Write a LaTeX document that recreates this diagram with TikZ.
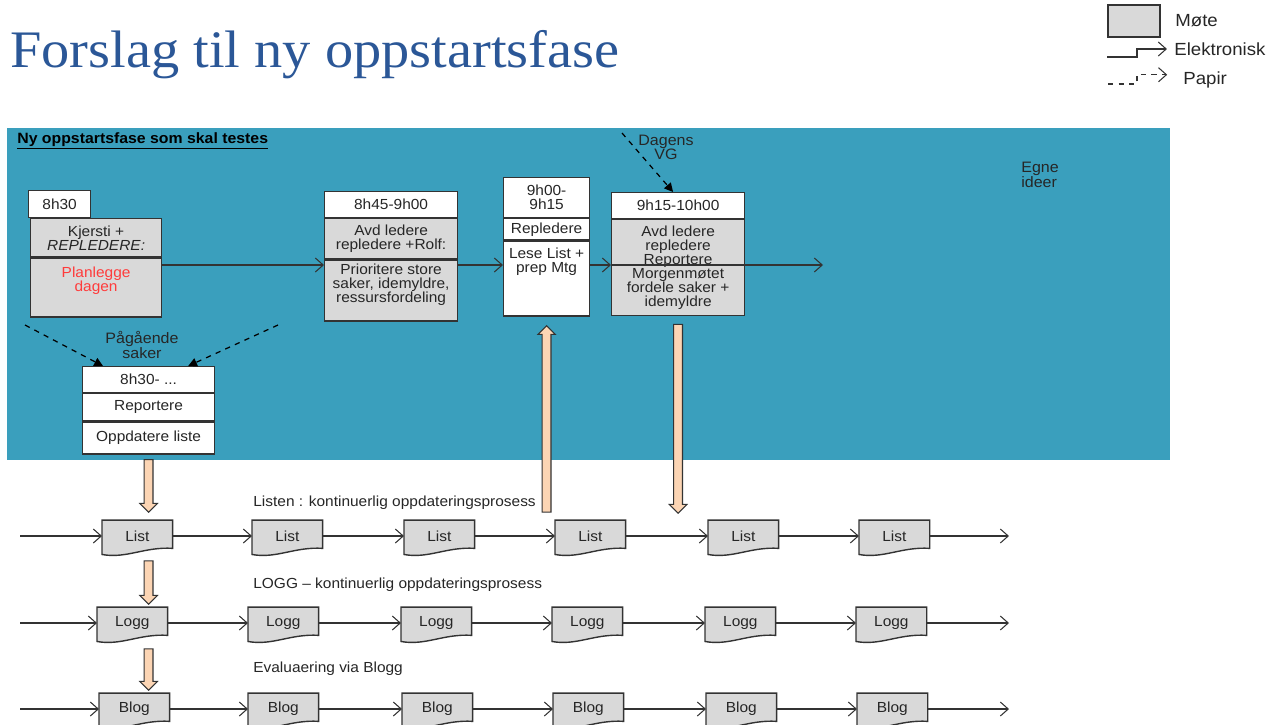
\documentclass[tikz,border=0pt]{standalone}
\usepackage{fontspec}
\setmainfont{Liberation Sans}[FakeStretch=1.06]
\newfontfamily\titlefont{Liberation Serif}[FakeStretch=1.07]
\usetikzlibrary{calc,arrows.meta,positioning,backgrounds}
\definecolor{cteal}{HTML}{3A9FBD}
\definecolor{cgray}{HTML}{D9D9D9}
\definecolor{cpeach}{HTML}{FCD5B4}
\definecolor{cline}{HTML}{333333}
\definecolor{ctitle}{HTML}{2B5797}
\definecolor{cred}{HTML}{FF3B3B}
% document outline round a node, wavy bottom
\newcommand\docshape[1]{%
  \filldraw[docline] (#1.north west) -- (#1.north east) -- ([yshift=2pt]#1.south east)
    .. controls ([xshift=-16pt,yshift=3pt]#1.south east) and ([xshift=14pt,yshift=-4pt]#1.south west)
    .. ([yshift=-1.5pt]#1.south west) -- cycle;}
% block arrow from #1 to #2
\newcommand\fatarrow[2]{%
  \path ($(#2)!5pt!(#1)$) coordinate (fabase);
  \filldraw[fat] ($(#1)!2.5pt!90:(#2)$) -- ($(fabase)!2.5pt!90:(#2)$) -- ($(fabase)!5pt!90:(#2)$)
    -- (#2) -- ($(fabase)!5pt!-90:(#2)$) -- ($(fabase)!2.5pt!-90:(#2)$) -- ($(#1)!2.5pt!-90:(#2)$) -- cycle;}
\begin{document}
\begin{tikzpicture}[x=0.02cm, y=-0.02cm,
  font=\fontsize{8.3}{8}\selectfont,
  part/.style={draw=cline, line width=0.7pt, fill=white, align=center, inner sep=1pt, text=black!85},
  gpart/.style={part, fill=cgray},
  doc/.style={minimum width=1.4cm, minimum height=0.62cm, inner sep=1pt, text=black!85},
  docline/.style={draw=cline, line width=0.8pt, fill=cgray},
  arr/.style={-{Straight Barb[length=4.5pt,width=8pt]}, draw=cline, line width=0.6pt},
  paper/.style={dashed, -{Triangle[length=5pt,width=5pt]}, draw=black, line width=0.7pt},
  fat/.style={draw=cline, line width=0.6pt, fill=cpeach},
  lbl/.style={inner sep=0pt, text=black!85}]
\useasboundingbox (0,0) rectangle (1267,724);
%% title and legend
\node[anchor=base west, inner sep=0pt, text=ctitle, font=\titlefont\fontsize{30}{34}\selectfont] (title) at (10,67)
  {Forslag til ny oppstartsfase};
\node[gpart, minimum width=1.04cm, minimum height=0.64cm] (legmote) at (1134,21) {};
\node[lbl, anchor=west, font=\fontsize{10}{12}\selectfont] (legmotetxt) at (1175,21) {Møte};
\node[lbl, anchor=west, font=\fontsize{10}{12}\selectfont] (legel) at (1174,49) {Elektronisk};
\node[lbl, anchor=west, font=\fontsize{10}{12}\selectfont] (legpap) at (1183,80) {Papir};
\coordinate (legel0) at (1107,57);
\coordinate (legpap0) at (1108,84);
\draw[arr] (legel0) -- ++(30,0) |- ([xshift=-4pt]legel.west);
\draw[arr, dashed] (legpap0) -- ++(29,0) |- ([xshift=-9pt,yshift=3pt]legpap.west);
%% panel
\fill[cteal] (7,128) rectangle (1170,460);
\node[lbl, anchor=west, text=black, font=\bfseries\fontsize{8.5}{10}\selectfont] (cap) at (17,141)
  {\underline{Ny oppstartsfase som skal testes}};
\node[lbl, anchor=north west, align=left, font=\fontsize{8.6}{8.5}\selectfont] (egne) at (1021,162) {Egne\\ideer};
\node[lbl, align=center, font=\fontsize{8.6}{8}\selectfont] (dagens) at (666,147) {Dagens\\VG};
\node[lbl, align=center, font=\fontsize{8.6}{8}\selectfont] (pag) at (142,345) {Pågående\\saker};
%% box 1
\node[part, minimum width=1.24cm, minimum height=0.54cm, anchor=north west] (b1h) at (28,190) {8h30};
\node[gpart, minimum width=2.62cm, minimum height=0.76cm, anchor=north west] (b1a) at ($(b1h.south west)+(2,0)$)
  {Kjersti +\\\textit{REPLEDERE:}};
\node[gpart, inner sep=0pt, anchor=north] (b1b) at (b1a.south)
  {\parbox[c][1.18cm][t]{2.62cm}{\centering\vspace*{5pt}\textcolor{cred}{Planlegge\\dagen}}};
%% box 2
\node[part, minimum width=2.66cm, minimum height=0.52cm, anchor=north west] (b2h) at (324,191) {8h45-9h00};
\node[gpart, minimum width=2.66cm, minimum height=0.8cm, below=0pt of b2h] (b2a) {Avd ledere\\repledere +Rolf:};
\node[gpart, inner sep=0pt, below=0pt of b2a] (b2b)
  {\parbox[c][1.22cm][t]{2.66cm}{\centering\vspace*{2pt}Prioritere store\\saker, idemyldre,\\ressursfordeling}};
%% box 3
\node[part, minimum width=1.72cm, minimum height=0.8cm, anchor=north west] (b3h) at (503,177) {9h00-\\9h15};
\node[part, minimum width=1.72cm, minimum height=0.42cm, below=0pt of b3h] (b3a) {Repledere};
\node[part, inner sep=0pt, below=0pt of b3a] (b3b)
  {\parbox[c][1.5cm][t]{1.72cm}{\centering\vspace*{4pt}Lese List +\\prep Mtg}};
%% box 4
\node[part, minimum width=2.66cm, minimum height=0.52cm, anchor=north west] (b4h) at (611,192) {9h15-10h00};
\node[gpart, minimum width=2.66cm, minimum height=1.92cm, below=0pt of b4h] (b4a)
  {Avd ledere\\repledere\\Reportere\\Morgenmøtet\\fordele saker +\\idemyldre};
%% box 5
\node[part, minimum width=2.64cm, minimum height=0.52cm, anchor=north west] (b5h) at (82,366) {8h30- ...};
\node[part, minimum width=2.64cm, minimum height=0.54cm, below=0pt of b5h] (b5a) {Reportere};
\node[part, minimum width=2.64cm, minimum height=0.64cm, below=0pt of b5a] (b5b) {Oppdatere liste};
%% flow through the morning
\coordinate (flow) at (0,265);
\coordinate (flowend) at (823,265);
\draw[arr] (b1a.east |- flow) -- (b2a.west |- flow);
\draw[arr] (b2a.east |- flow) -- (b3a.west |- flow);
\draw[arr] (b3a.east |- flow) -- (b4a.west |- flow);
\draw[arr] (b4a.west |- flow) -- (flowend);
%% paper inputs
\coordinate (pagl) at (25,325);
\coordinate (pagr) at (278,325);
\coordinate (vg) at (622,133);
\draw[paper] (pagl) -- ($(b5h.north west)+(21,0)$);
\draw[paper] (pagr) -- ($(b5h.north east)+(-27,0)$);
\draw[paper] (vg) -- ($(b4h.north)+(-5,0)$);
%% rows of documents
\node[lbl, anchor=west, font=\fontsize{8.3}{10}\selectfont] (listtxt) at (253,503) {Listen : kontinuerlig oppdateringsprosess};
\node[lbl, anchor=west, font=\fontsize{8.3}{10}\selectfont] (loggtxt) at (253,585) {LOGG – kontinuerlig oppdateringsprosess};
\node[lbl, anchor=west, font=\fontsize{8.3}{10}\selectfont] (blogtxt) at (253,669) {Evaluaering via Blogg};
\foreach \r/\t/\yy/\xs in {list/List/536/{102,252,404,555,708,859},
                           logg/Logg/623/{97,248,401,552,705,856},
                           blog/Blog/709/{99,248,402,553,706,857}} {
  \foreach \x [count=\i] in \xs {
    \node[doc, anchor=west] (\r\i) at (\x,\yy) {\t};
    \begin{scope}[on background layer]
      \docshape{\r\i}
    \end{scope}
  }
  \coordinate (\r-in) at (20,\yy);
  \coordinate (\r-out) at (1009,\yy);
  \draw[arr] (\r-in) -- (\r1.west);
  \draw[arr] (\r6.east) -- (\r-out);
  \foreach \i [evaluate=\i as \j using int(\i+1)] in {1,...,5}
    \draw[arr] (\r\i.east) -- (\r\j.west);
}
%% block arrows
\coordinate (o1a) at ($(b5b.south)+(0,5)$);
\coordinate (o1b) at ($(b5b.south |- list1.north)+(0,-8)$);
\coordinate (o2a) at ($(b5b.south |- list1.south)+(0,9)$);
\coordinate (o2b) at ($(b5b.south |- logg1.north)+(0,-3)$);
\coordinate (o3a) at ($(b5b.south |- logg1.south)+(0,10)$);
\coordinate (o3b) at ($(b5b.south |- blog1.north)+(0,-3)$);
\coordinate (o4a) at ($(b3b.south |- list4.north)+(0,-8)$);
\coordinate (o4b) at ($(b3b.south)+(0,9)$);
\coordinate (o5a) at ($(b4a.south)+(0,8)$);
\coordinate (o5b) at ($(b4a.south |- list5.north)+(0,-7)$);
\fatarrow{o1a}{o1b}
\fatarrow{o2a}{o2b}
\fatarrow{o3a}{o3b}
\fatarrow{o4a}{o4b}
\fatarrow{o5a}{o5b}
\end{tikzpicture}
\end{document}
